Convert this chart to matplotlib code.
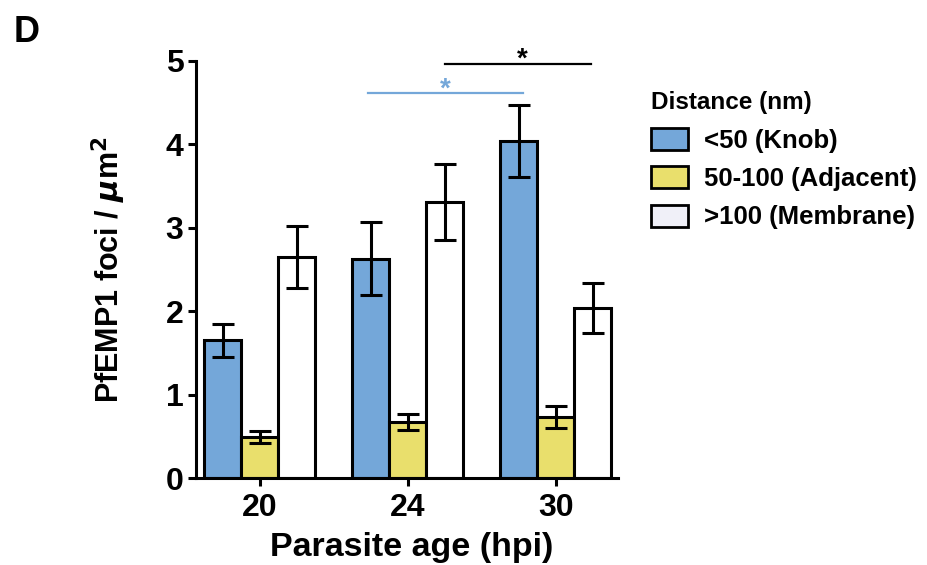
import numpy as np
import matplotlib
matplotlib.use("Agg")
from matplotlib import pyplot as plt

plt.rcParams['font.family'] = ['Liberation Sans', 'DejaVu Sans']
plt.rcParams['font.weight'] = 'bold'

ages = ['20', '24', '30']
series = ['<50 (Knob)', '50-100 (Adjacent)', '>100 (Membrane)']
knob = [1.65, 2.63, 4.04]
knob_err = [0.20, 0.44, 0.43]
adjacent = [0.49, 0.67, 0.73]
adjacent_err = [0.07, 0.10, 0.13]
membrane = [2.65, 3.31, 2.04]
membrane_err = [0.37, 0.46, 0.30]

colors = ['#74A7D9', '#E9DF6C', '#FFFFFF']
legend_face = ['#74A7D9', '#E9DF6C', '#F0F0F8']

fig = plt.figure(figsize=(9.28, 5.65), dpi=100)
ax = fig.add_axes([196/928, 87/565, 422/928, 417/565])

x = np.arange(len(ages))
w = 0.25
data = [(knob, knob_err), (adjacent, adjacent_err), (membrane, membrane_err)]
handles = []
for i, (vals, errs) in enumerate(data):
    pos = x + (i - 1) * w
    ax.bar(pos, vals, width=w, color=colors[i], edgecolor='black', linewidth=2.2, zorder=2)
    ax.errorbar(pos, vals, yerr=errs, fmt='none', ecolor='black', elinewidth=2.2,
                capsize=8, capthick=2.2, zorder=3)
    handles.append(plt.Rectangle((0, 0), 1, 1, facecolor=legend_face[i], edgecolor='black', linewidth=2))

# significance bars
ax.plot([0.73, 1.78], [4.62, 4.62], color='#74A7D9', lw=1.6, clip_on=False)
ax.text((0.73 + 1.78) / 2, 4.57, '*', color='#74A7D9', ha='center', va='baseline', fontsize=20)
ax.plot([1.25, 2.24], [4.96, 4.96], color='black', lw=1.6, clip_on=False)
ax.text((1.25 + 2.24) / 2 + 0.03, 4.93, '*', color='black', ha='center', va='baseline', fontsize=20)

ax.set_xlim(-0.432, 2.42)
ax.set_ylim(0, 5)
ax.set_xticks(x)
ax.set_xticklabels(ages)
ax.set_yticks(range(6))
for s in ['top', 'right']:
    ax.spines[s].set_visible(False)
for s in ['left', 'bottom']:
    ax.spines[s].set_linewidth(2.2)
ax.tick_params(axis='both', width=2.2, length=6, labelsize=23, pad=3)
ax.tick_params(axis='x', pad=5)
ax.set_xlabel('Parasite age (hpi)', fontsize=24.5, fontweight='bold', labelpad=6, x=0.51)
ax.set_ylabel(r'PfEMP1 foci / $\mu$m$^2$', fontsize=22, fontweight='bold', labelpad=27)

fig.text(651/928, 1 - 102/565, 'Distance (nm)', fontsize=17.5, fontweight='bold', va='center')
ax.legend(handles, series, loc='upper left',
          bbox_to_anchor=(651/928, 1 - 128/565), bbox_transform=fig.transFigure,
          frameon=False, fontsize=18.5, borderpad=0, borderaxespad=0,
          handlelength=1.45, handleheight=0.95, handletextpad=0.6, labelspacing=0.52)

fig.text(14/928, 1 - 42/565, 'D', fontsize=26, fontweight='bold')

fig.savefig('out.png', dpi=100)
